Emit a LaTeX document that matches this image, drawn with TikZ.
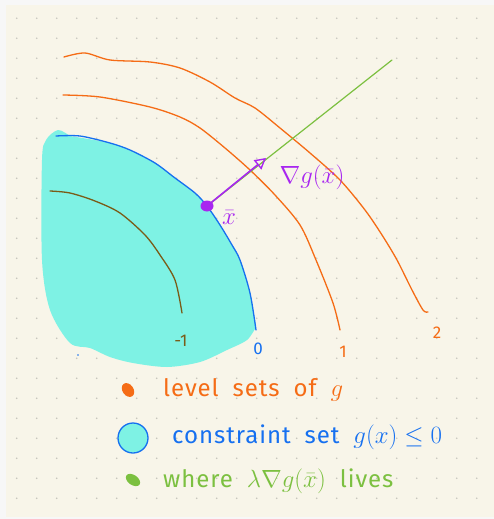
\documentclass[tikz,border=0pt]{standalone}
\usepackage{fontspec}
\setmainfont{Fira Sans}
\newfontfamily\handfont{Fira Sans}[LetterSpace=4, WordSpace=1.9]
\usetikzlibrary{arrows.meta}
\definecolor{myframe}{RGB}{247,247,247}
\definecolor{mypaper}{RGB}{248,245,233}
\definecolor{mydot}{RGB}{200,198,190}
\definecolor{myorange}{RGB}{245,108,22}
\definecolor{myblue}{RGB}{22,112,240}
\definecolor{mycyan}{RGB}{126,242,228}
\definecolor{mybrown}{RGB}{122,92,24}
\definecolor{mygreen}{RGB}{124,192,64}
\definecolor{mypurple}{RGB}{168,38,240}
\tikzset{
  levelline/.style={line width=1.3pt, line cap=round, line join=round},
  levellabel/.style={font=\fontsize{17}{19}\selectfont, inner sep=0pt},
  ptlabel/.style={font=\fontsize{23}{25}\selectfont, inner sep=0pt, text=mypurple},
  legendtext/.style={anchor=base west, inner sep=0pt, font=\handfont\fontsize{24}{26}\selectfont},
  gradarrow/.style={-{Triangle[open, length=11pt, width=12pt, line width=1.4pt]}, line width=1.6pt, color=mypurple}
}

\begin{document}
\begin{tikzpicture}[x=1pt, y=-1pt]
  % Paper and dot grid
  \fill[myframe] (0,0) rectangle (494,519);
  \fill[mypaper] (6,5) rectangle (494,517);
  \useasboundingbox (0,0) rectangle (494,519);
  \foreach \i in {0,...,23}
    \foreach \j in {0,...,24}
      \fill[mydot] (16.7+20*\i, 18.3+20*\j) circle (0.9);

  % Constraint set
  \fill[mycyan] plot[smooth] coordinates {(70,136) (110,143) (130,150) (155,163) (175,178) (195,193) (207,206)
      (220,225) (232,245) (240,260) (250,293) (256,327)}
    -- plot[smooth] coordinates {(256,327) (247,340) (227,350) (200,362) (167,367) (133,363) (110,357)
      (90,348) (70,343) (50,310) (42,260) (42,160) (46,140) (58,130) (70,136)} -- cycle;
  \fill[myblue] (78,355) circle (0.9);

  % Level sets
  \draw[levelline, myorange] plot[smooth] coordinates {(64,57) (85,53) (110,60) (150,62) (180,68) (210,82)
      (235,98) (255,108) (280,128) (310,153) (340,180) (365,210) (382,235) (397,260) (412,290) (423,310) (428,312)};
  \draw[levelline, myorange] plot[smooth] coordinates {(63,95) (100,97) (150,107) (180,117) (200,128)
      (225,148) (250,170) (275,195) (300,225) (316,260) (333,303) (340,330)};
  \draw[levelline, myblue] plot[smooth] coordinates {(56,136) (80,136) (110,143) (130,150) (155,163)
      (175,178) (195,193) (207,206) (220,225) (232,245) (240,260) (250,293) (256,330)};
  \draw[levelline, mybrown] plot[smooth] coordinates {(50,191) (70,193) (95,201) (120,213) (145,235)
      (160,255) (175,280) (182,313)};

  % Level values
  \node[levellabel, text=mybrown] (lm1) at (181,341) {-1};
  \node[levellabel, text=myblue] (l0) at (258,349) {0};
  \node[levellabel, text=myorange] (l1) at (343,352) {1};
  \node[levellabel, text=myorange] (l2) at (437,333) {2};

  % Point and gradient
  \coordinate (xbar) at (207,206);
  \coordinate (gradtip) at (266,158);
  \coordinate (rayend) at (392,60);
  \draw[levelline, mygreen, line width=1.2pt] (xbar) -- (rayend);
  \draw[gradarrow] (xbar) -- (gradtip);
  \fill[mypurple] (xbar) ellipse (6.5 and 5.5);
  \node[ptlabel] (xlabel) at (229,218) {$\bar{x}$};
  \node[ptlabel] (gradlabel) at (312,177) {$\nabla g(\bar{x})$};

  % Legend
  \fill[myorange, rotate around={35:(128,390)}] (128,390) ellipse (5.5 and 7.5);
  \draw[myblue, fill=mycyan, line width=1.3pt] (133,438) circle (15);
  \fill[mygreen, rotate around={-35:(133,480)}] (133,480) ellipse (8 and 5);
  \node[legendtext, text=myorange] (leg1) at (163,396) {level sets of $g$};
  \node[legendtext, text=myblue] (leg2) at (172,443) {constraint set $g(x) \leq 0$};
  \node[legendtext, text=mygreen] (leg3) at (163,487) {where $\lambda \nabla g(\bar{x})$ lives};
\end{tikzpicture}
\end{document}
